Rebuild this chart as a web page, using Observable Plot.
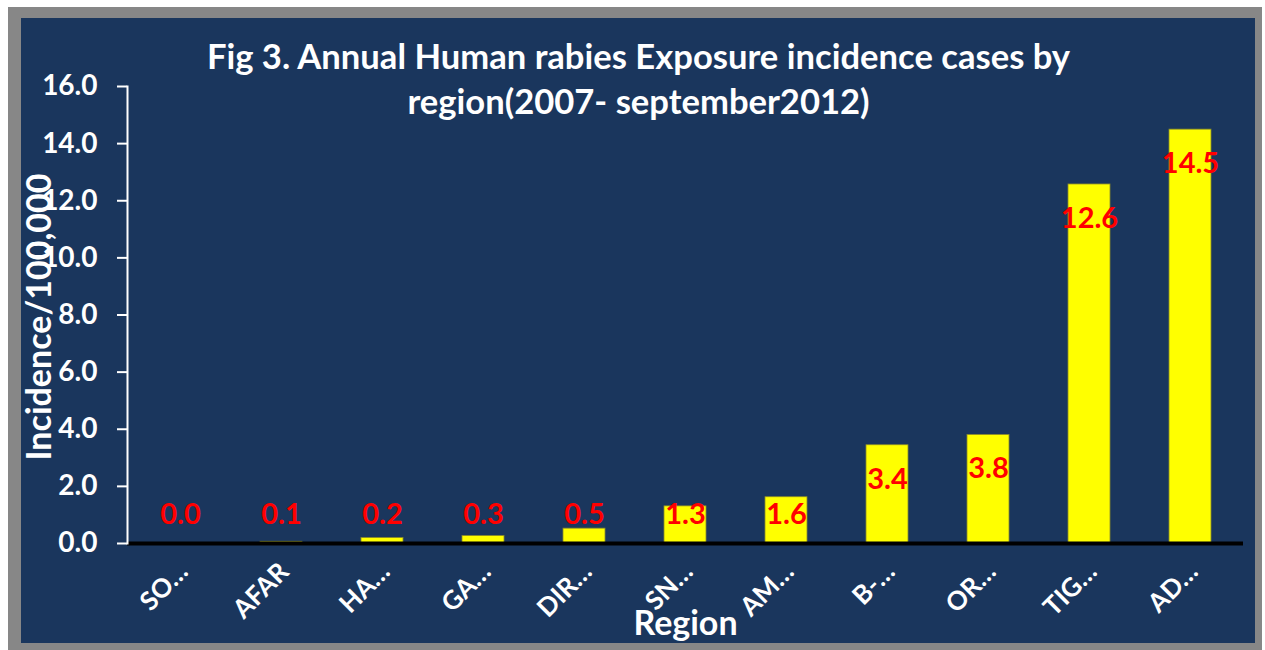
<!DOCTYPE html>
<html>
<head>
<meta charset="utf-8">
<script src="https://cdn.jsdelivr.net/npm/d3@7"></script>
<script src="https://cdn.jsdelivr.net/npm/@observablehq/plot@0.6"></script>
<style>
  html, body { margin: 0; padding: 0; background: #ffffff; }
  #wrap { position: relative; width: 1265px; height: 650px; overflow: hidden; font-family: Lato, "Open Sans", sans-serif; }
  #frame { position: absolute; left: 8px; top: 7px; width: 1254px; height: 643px; background: #878787; }
  #panel { position: absolute; left: 21px; top: 18px; width: 1234px; height: 625px; background: #1a365d; }
  #chart { position: absolute; left: 0; top: 0; }
  #title { position: absolute; left: 6px; width: 1265px; top: 33px; text-align: center; color: #ffffff;
           font-weight: bold; font-size: 34.6px; line-height: 45px; }
</style>
</head>
<body>
<div id="wrap">
  <div id="frame"></div>
  <div id="panel"></div>
  <div id="chart"></div>
  <div id="title">Fig 3. Annual Human rabies Exposure incidence cases by<br>region(2007- september2012)</div>
</div>
<script>
const regions = ["SO…", "AFAR", "HA…", "GA…", "DIR…", "SN…", "AM…", "B-…", "OR…", "TIG…", "AD…"];
const incidence = [0.0, 0.06, 0.19, 0.26, 0.52, 1.3, 1.62, 3.44, 3.8, 12.57, 14.49];
const labels = ["0.0", "0.1", "0.2", "0.3", "0.5", "1.3", "1.6", "3.4", "3.8", "12.6", "14.5"];
const yTicks = [0, 2, 4, 6, 8, 10, 12, 14, 16];

const data = regions.map((r, i) => ({region: r, value: incidence[i], label: labels[i]}));

const font = "Lato, 'Open Sans', sans-serif";

const chart = Plot.plot({
  width: 1265,
  height: 650,
  marginLeft: 127,
  marginRight: 22,
  marginTop: 86,
  marginBottom: 107,
  style: {background: "transparent", fontFamily: font, overflow: "visible"},
  x: {domain: regions, paddingInner: 0.58, paddingOuter: 0.29, label: null},
  y: {domain: [0, 16], label: null},
  marks: [
    Plot.barY(data, {x: "region", y: "value", fill: "#ffff00", stroke: "#8a8a2a", strokeWidth: 0.8}),
    Plot.ruleY([0], {stroke: "#000000", strokeWidth: 4}),
    Plot.axisY({ticks: yTicks, tickFormat: d => d.toFixed(1), tickSize: 10, tickPadding: 20,
      stroke: "#ffffff", strokeWidth: 2, fill: "#ffffff", fontSize: 28, fontWeight: "bold", label: null}),
    Plot.frame({anchor: "left", stroke: "#ffffff", strokeWidth: 2}),
    Plot.axisX({tickSize: 0, tickRotate: -45, tickPadding: 24, dx: 3, fill: "#ffffff",
      fontSize: 26, fontWeight: "bold", label: null}),
    Plot.text(data, {x: "region", y: d => Math.max(d.value - 1.19, 1.02), text: "label",
      fill: "#ff0000", fontSize: 29, fontWeight: "bold"}),
    Plot.text(["Incidence/100,000"], {frameAnchor: "left", dx: -87, dy: 2, rotate: -90,
      fill: "#ffffff", fontSize: 34, fontWeight: "bold", textAnchor: "middle"}),
    Plot.text(["Region"], {frameAnchor: "bottom", dy: 91, fill: "#ffffff", fontSize: 34, fontWeight: "bold"})
  ]
});
document.getElementById("chart").appendChild(chart);
</script>
</body>
</html>
